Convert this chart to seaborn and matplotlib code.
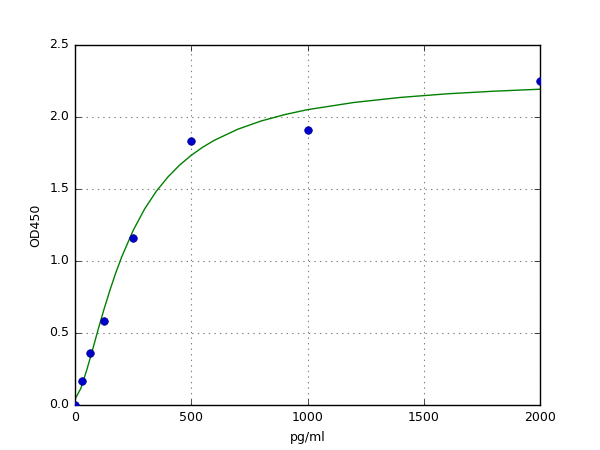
import matplotlib
matplotlib.use("Agg")
import matplotlib.pyplot as plt
import seaborn as sns
import pandas as pd

# Standard points (concentration vs OD)
conc = [0, 31.25, 62.5, 125, 250, 500, 1000, 2000]
od = [0.0, 0.17, 0.36, 0.58, 1.16, 1.83, 1.91, 2.25]

# Fitted curve
curve_x = [0, 25, 50, 75, 100, 125, 150, 175, 200, 250, 300, 350, 400, 450,
           500, 550, 600, 700, 800, 900, 1000, 1200, 1400, 1600, 1800, 2000]
curve_y = [0.04, 0.115, 0.24, 0.38, 0.527, 0.666, 0.796, 0.916, 1.025, 1.212,
           1.363, 1.485, 1.584, 1.666, 1.734, 1.791, 1.839, 1.915, 1.972,
           2.016, 2.051, 2.101, 2.136, 2.161, 2.179, 2.193]

pts = pd.DataFrame({"conc": conc, "od": od})
fit = pd.DataFrame({"x": curve_x, "y": curve_y})

plt.style.use("classic")
plt.rcParams["font.family"] = ["DejaVu Sans"]
plt.rcParams["font.size"] = 9

fig = plt.figure(figsize=(6, 4.5), dpi=100, facecolor="white")
ax = fig.add_axes([0.125, 0.1, 0.775, 0.8])
ax.set_axisbelow(True)

sns.lineplot(data=fit, x="x", y="y", color="green", linewidth=1.0, ax=ax, zorder=2)
sns.scatterplot(data=pts, x="conc", y="od", color="#0000cc", edgecolor="#000080",
                linewidth=0.5, s=30, ax=ax, zorder=3)

ax.set_xlim(0, 2000)
ax.set_ylim(0, 2.5)
ax.set_xticks([0, 500, 1000, 1500, 2000])
ax.set_yticks([0.0, 0.5, 1.0, 1.5, 2.0, 2.5])
ax.grid(True, linestyle=":", color="gray", linewidth=0.8)
ax.set_xlabel("pg/ml", fontsize=9)
ax.set_ylabel("OD450", fontsize=9)
ax.tick_params(labelsize=9)

fig.savefig("out.png", dpi=100, facecolor="white")
